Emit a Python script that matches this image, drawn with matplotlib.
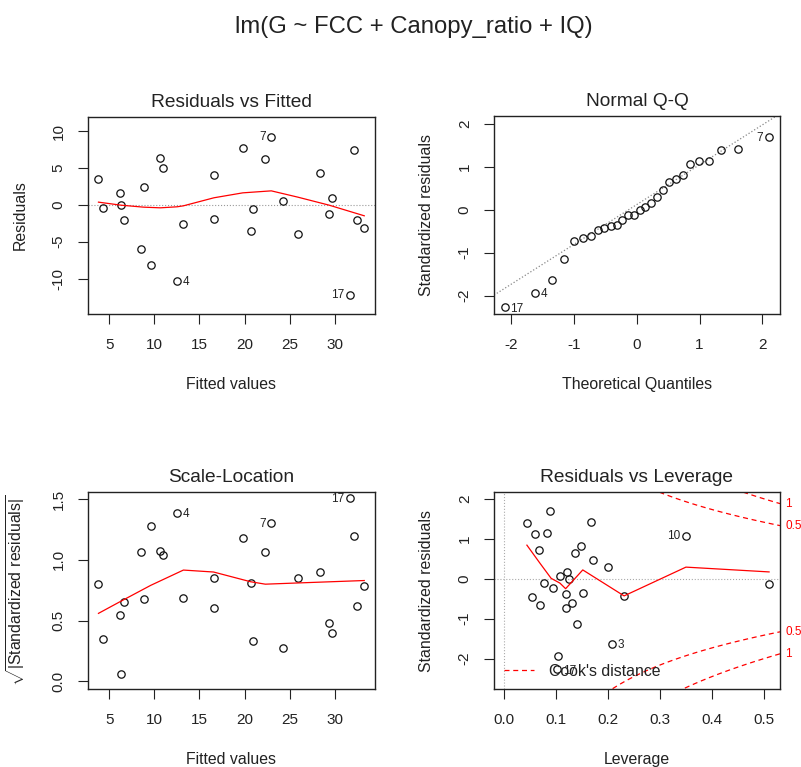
import numpy as np
import matplotlib
matplotlib.use('Agg')
import matplotlib.pyplot as plt
from matplotlib.lines import Line2D
from statistics import NormalDist

plt.rcParams['font.family'] = ['Liberation Sans', 'DejaVu Sans']
plt.rcParams['mathtext.fontset'] = 'custom'
plt.rcParams['mathtext.rm'] = 'Liberation Sans'
plt.rcParams['axes.unicode_minus'] = False

# valores (um por observacao, ordenados pelo valor ajustado)
ajustados = [3.81, 4.30, 6.22, 6.30, 6.59, 8.52, 8.89, 9.59, 10.67, 11.0,
             12.48, 13.22, 16.56, 16.63, 19.78, 20.67, 20.93, 22.3, 22.96, 24.3,
             25.89, 28.33, 29.37, 29.74, 31.67, 32.07, 32.44, 33.26]
residuos = [3.47, -0.50, 1.62, -0.05, -2.12, -5.99, 2.39, -8.15, 6.31, 5.0,
            -10.3, -2.61, -1.89, 4.05, 7.75, -3.60, -0.59, 6.22, 9.23, 0.45,
            -3.92, 4.32, -1.26, 0.86, -12.16, 7.43, -2.03, -3.2]
res_padronizados = [0.64, -0.12, 0.30, -0.004, -0.43, -1.14, 0.46, -1.63, 1.15, 1.08,
                    -1.93, -0.47, -0.36, 0.73, 1.39, -0.65, -0.11, 1.13, 1.70, 0.076,
                    -0.73, 0.81, -0.23, 0.156, -2.27, 1.43, -0.38, -0.61]
alavancagem = [0.136, 0.510, 0.200, 0.1255, 0.231, 0.140, 0.171, 0.207, 0.082, 0.350,
               0.103, 0.054, 0.152, 0.067, 0.044, 0.069, 0.076, 0.060, 0.088, 0.1075,
               0.1185, 0.1475, 0.095, 0.122, 0.102, 0.167, 0.1185, 0.131]

# rotulos das observacoes destacadas (indice -> nome)
rotulos_res = {18: '7', 10: '4', 24: '17'}
rotulos_cook = {9: '10', 7: '3', 24: '17'}

# curvas suavizadas (lowess)
suave_rvf_x = [3.81, 6.30, 8.82, 10.67, 12.52, 13.22, 16.6, 19.8, 22.96, 25.89, 29.37, 33.26]
suave_rvf_y = [0.36, -0.05, -0.32, -0.41, -0.27, -0.14, 0.95, 1.62, 1.89, 1.04, -0.05, -1.49]
suave_sl_x = [3.81, 6.30, 9.59, 13.22, 16.56, 20.67, 22.3, 25.89, 33.26]
suave_sl_y = [0.56, 0.66, 0.79, 0.916, 0.90, 0.82, 0.80, 0.81, 0.83]
suave_lev_x = [0.044, 0.069, 0.0906, 0.1075, 0.1185, 0.1515, 0.231, 0.350, 0.510]
suave_lev_y = [0.84, 0.39, 0.01, -0.11, -0.25, 0.22, -0.43, 0.29, 0.17]

NIVEIS_COOK = [0.5, 1]
P_COEF = 4

TITULO = 'lm(G ~ FCC + Canopy_ratio + IQ)'
COR_TEXTO = '#222222'
FS_TICK = 11
FS_LAB = 11.4
FS_TIT = 13.8
FS_ID = 8.5

W, H = 801, 767
fig = plt.figure(figsize=(W / 100, H / 100), dpi=100)


def eixo(l, t, r, b):
    return fig.add_axes([l / W, 1 - b / H, (r - l) / W, (b - t) / H])


def estilo(ax, titulo, xl, yl, xt, xtl, yt, ytl):
    for s in ax.spines.values():
        s.set_color('#222222')
        s.set_linewidth(1.0)
    ax.set_xticks(xt)
    ax.set_xticklabels(xtl)
    ax.set_yticks(yt)
    ax.set_yticklabels(ytl, rotation=90, va='center')
    ax.tick_params(direction='out', length=7, width=0.8, color='#222222',
                   labelsize=FS_TICK, labelcolor=COR_TEXTO)
    ax.tick_params(axis='x', pad=10)
    ax.tick_params(axis='y', pad=9)
    ax.set_title(titulo, fontsize=FS_TIT, color=COR_TEXTO, pad=7)
    ax.set_xlabel(xl, fontsize=FS_LAB, color=COR_TEXTO)
    ax.set_ylabel(yl, fontsize=FS_LAB, color=COR_TEXTO)
    ax.xaxis.set_label_coords(0.5, -0.32)
    ax.yaxis.set_label_coords(-0.21, 0.5)


def pontos(ax, x, y):
    ax.plot(x, y, 'o', ls='none', mfc='none', mec='#111111', ms=5.3, mew=0.9)


def rotular(ax, x, y, rotulos):
    meio = (min(x) + max(x)) / 2
    for i, nome in rotulos.items():
        if x[i] > meio:
            ax.annotate(nome, (x[i], y[i]), xytext=(-4, -0.5), textcoords='offset points',
                        ha='right', va='center', fontsize=FS_ID, color=COR_TEXTO)
        else:
            ax.annotate(nome, (x[i], y[i]), xytext=(4, -1), textcoords='offset points',
                        ha='left', va='center', fontsize=FS_ID, color=COR_TEXTO)


# 1 - Residuals vs Fitted
ax1 = eixo(88, 117, 375, 314)
ax1.axhline(0, color='#999999', lw=0.8, ls=':')
pontos(ax1, ajustados, residuos)
ax1.plot(suave_rvf_x, suave_rvf_y, color='red', lw=0.9)
rotular(ax1, ajustados, residuos, rotulos_res)
ax1.set_xlim(2.65, 34.45)
ax1.set_ylim(-14.8, 11.9)
estilo(ax1, 'Residuals vs Fitted', 'Fitted values', 'Residuals',
       [5, 10, 15, 20, 25, 30], ['5', '10', '15', '20', '25', '30'],
       [-10, -5, 0, 5, 10], ['-10', '-5', '0', '5', '10'])

# 2 - Normal Q-Q
ax2 = eixo(494, 116, 780, 314)
n = len(res_padronizados)
ordem = np.argsort(res_padronizados)
amostral = np.array(res_padronizados)[ordem]
teoricos = np.array([NormalDist().inv_cdf((i + 0.5) / n) for i in range(n)])
q_am = np.quantile(res_padronizados, [0.25, 0.75])
q_te = np.array([NormalDist().inv_cdf(0.25), NormalDist().inv_cdf(0.75)])
incl = (q_am[1] - q_am[0]) / (q_te[1] - q_te[0])
inter = q_am[0] - incl * q_te[0]
ax2.axline((0, inter), slope=incl, color='#888888', lw=0.9, ls=':')
pontos(ax2, teoricos, amostral)
pos = {int(o): k for k, o in enumerate(ordem)}
rotular(ax2, teoricos, amostral, {pos[i]: nome for i, nome in rotulos_res.items()})
ax2.set_xlim(-2.27, 2.28)
ax2.set_ylim(-2.43, 2.19)
estilo(ax2, 'Normal Q-Q', 'Theoretical Quantiles', 'Standardized residuals',
       [-2, -1, 0, 1, 2], ['-2', '-1', '0', '1', '2'],
       [-2, -1, 0, 1, 2], ['-2', '-1', '0', '1', '2'])

# 3 - Scale-Location
ax3 = eixo(88, 492, 375, 689)
raiz = np.sqrt(np.abs(res_padronizados))
pontos(ax3, ajustados, raiz)
ax3.plot(suave_sl_x, suave_sl_y, color='red', lw=0.9)
rotular(ax3, ajustados, raiz, rotulos_res)
ax3.set_xlim(2.65, 34.45)
ax3.set_ylim(-0.062, 1.558)
estilo(ax3, 'Scale-Location', 'Fitted values',
       r'$\sqrt{|\mathrm{Standardized\ residuals}|}$',
       [5, 10, 15, 20, 25, 30], ['5', '10', '15', '20', '25', '30'],
       [0, 0.5, 1.0, 1.5], ['0.0', '0.5', '1.0', '1.5'])

# 4 - Residuals vs Leverage
ax4 = eixo(494, 492, 780, 689)
xmin, xmax = -0.0193, 0.531
ax4.axhline(0, color='#aaaaaa', lw=0.8, ls=':')
ax4.axvline(0, color='#aaaaaa', lw=0.8, ls=':')
pontos(ax4, alavancagem, res_padronizados)
ax4.plot(suave_lev_x, suave_lev_y, color='red', lw=0.9)
hh = np.linspace(min(alavancagem) / 100 + 0.005, xmax, 101)
for nivel in NIVEIS_COOK:
    ch = np.sqrt(nivel * P_COEF * (1 - hh) / hh)
    ax4.plot(hh, ch, color='red', lw=0.9, ls=(0, (4, 3)))
    ax4.plot(hh, -ch, color='red', lw=0.9, ls=(0, (4, 3)))
    yt = np.sqrt(nivel * P_COEF * (1 - xmax) / xmax)
    for s in (1, -1):
        ax4.text(1.018, s * yt, str(nivel), transform=ax4.get_yaxis_transform(),
                 ha='left', va='center', fontsize=FS_ID, color='red', clip_on=False)
rotular(ax4, alavancagem, res_padronizados, rotulos_cook)
ax4.legend(handles=[Line2D([], [], color='red', lw=0.9, ls=(0, (4, 3)))],
           labels=["Cook's distance"], loc='lower left', frameon=False,
           fontsize=FS_LAB, handlelength=1.9, handletextpad=0.9,
           borderaxespad=0.25, labelcolor=COR_TEXTO)
ax4.set_xlim(xmin, xmax)
ax4.set_ylim(-2.76, 2.17)
estilo(ax4, 'Residuals vs Leverage', 'Leverage', 'Standardized residuals',
       [0, 0.1, 0.2, 0.3, 0.4, 0.5], ['0.0', '0.1', '0.2', '0.3', '0.4', '0.5'],
       [-2, -1, 0, 1, 2], ['-2', '-1', '0', '1', '2'])

fig.text(414 / W, 1 - 27 / H, TITULO, ha='center', va='center', fontsize=17.2, color=COR_TEXTO)

fig.savefig('out.png', dpi=100)
